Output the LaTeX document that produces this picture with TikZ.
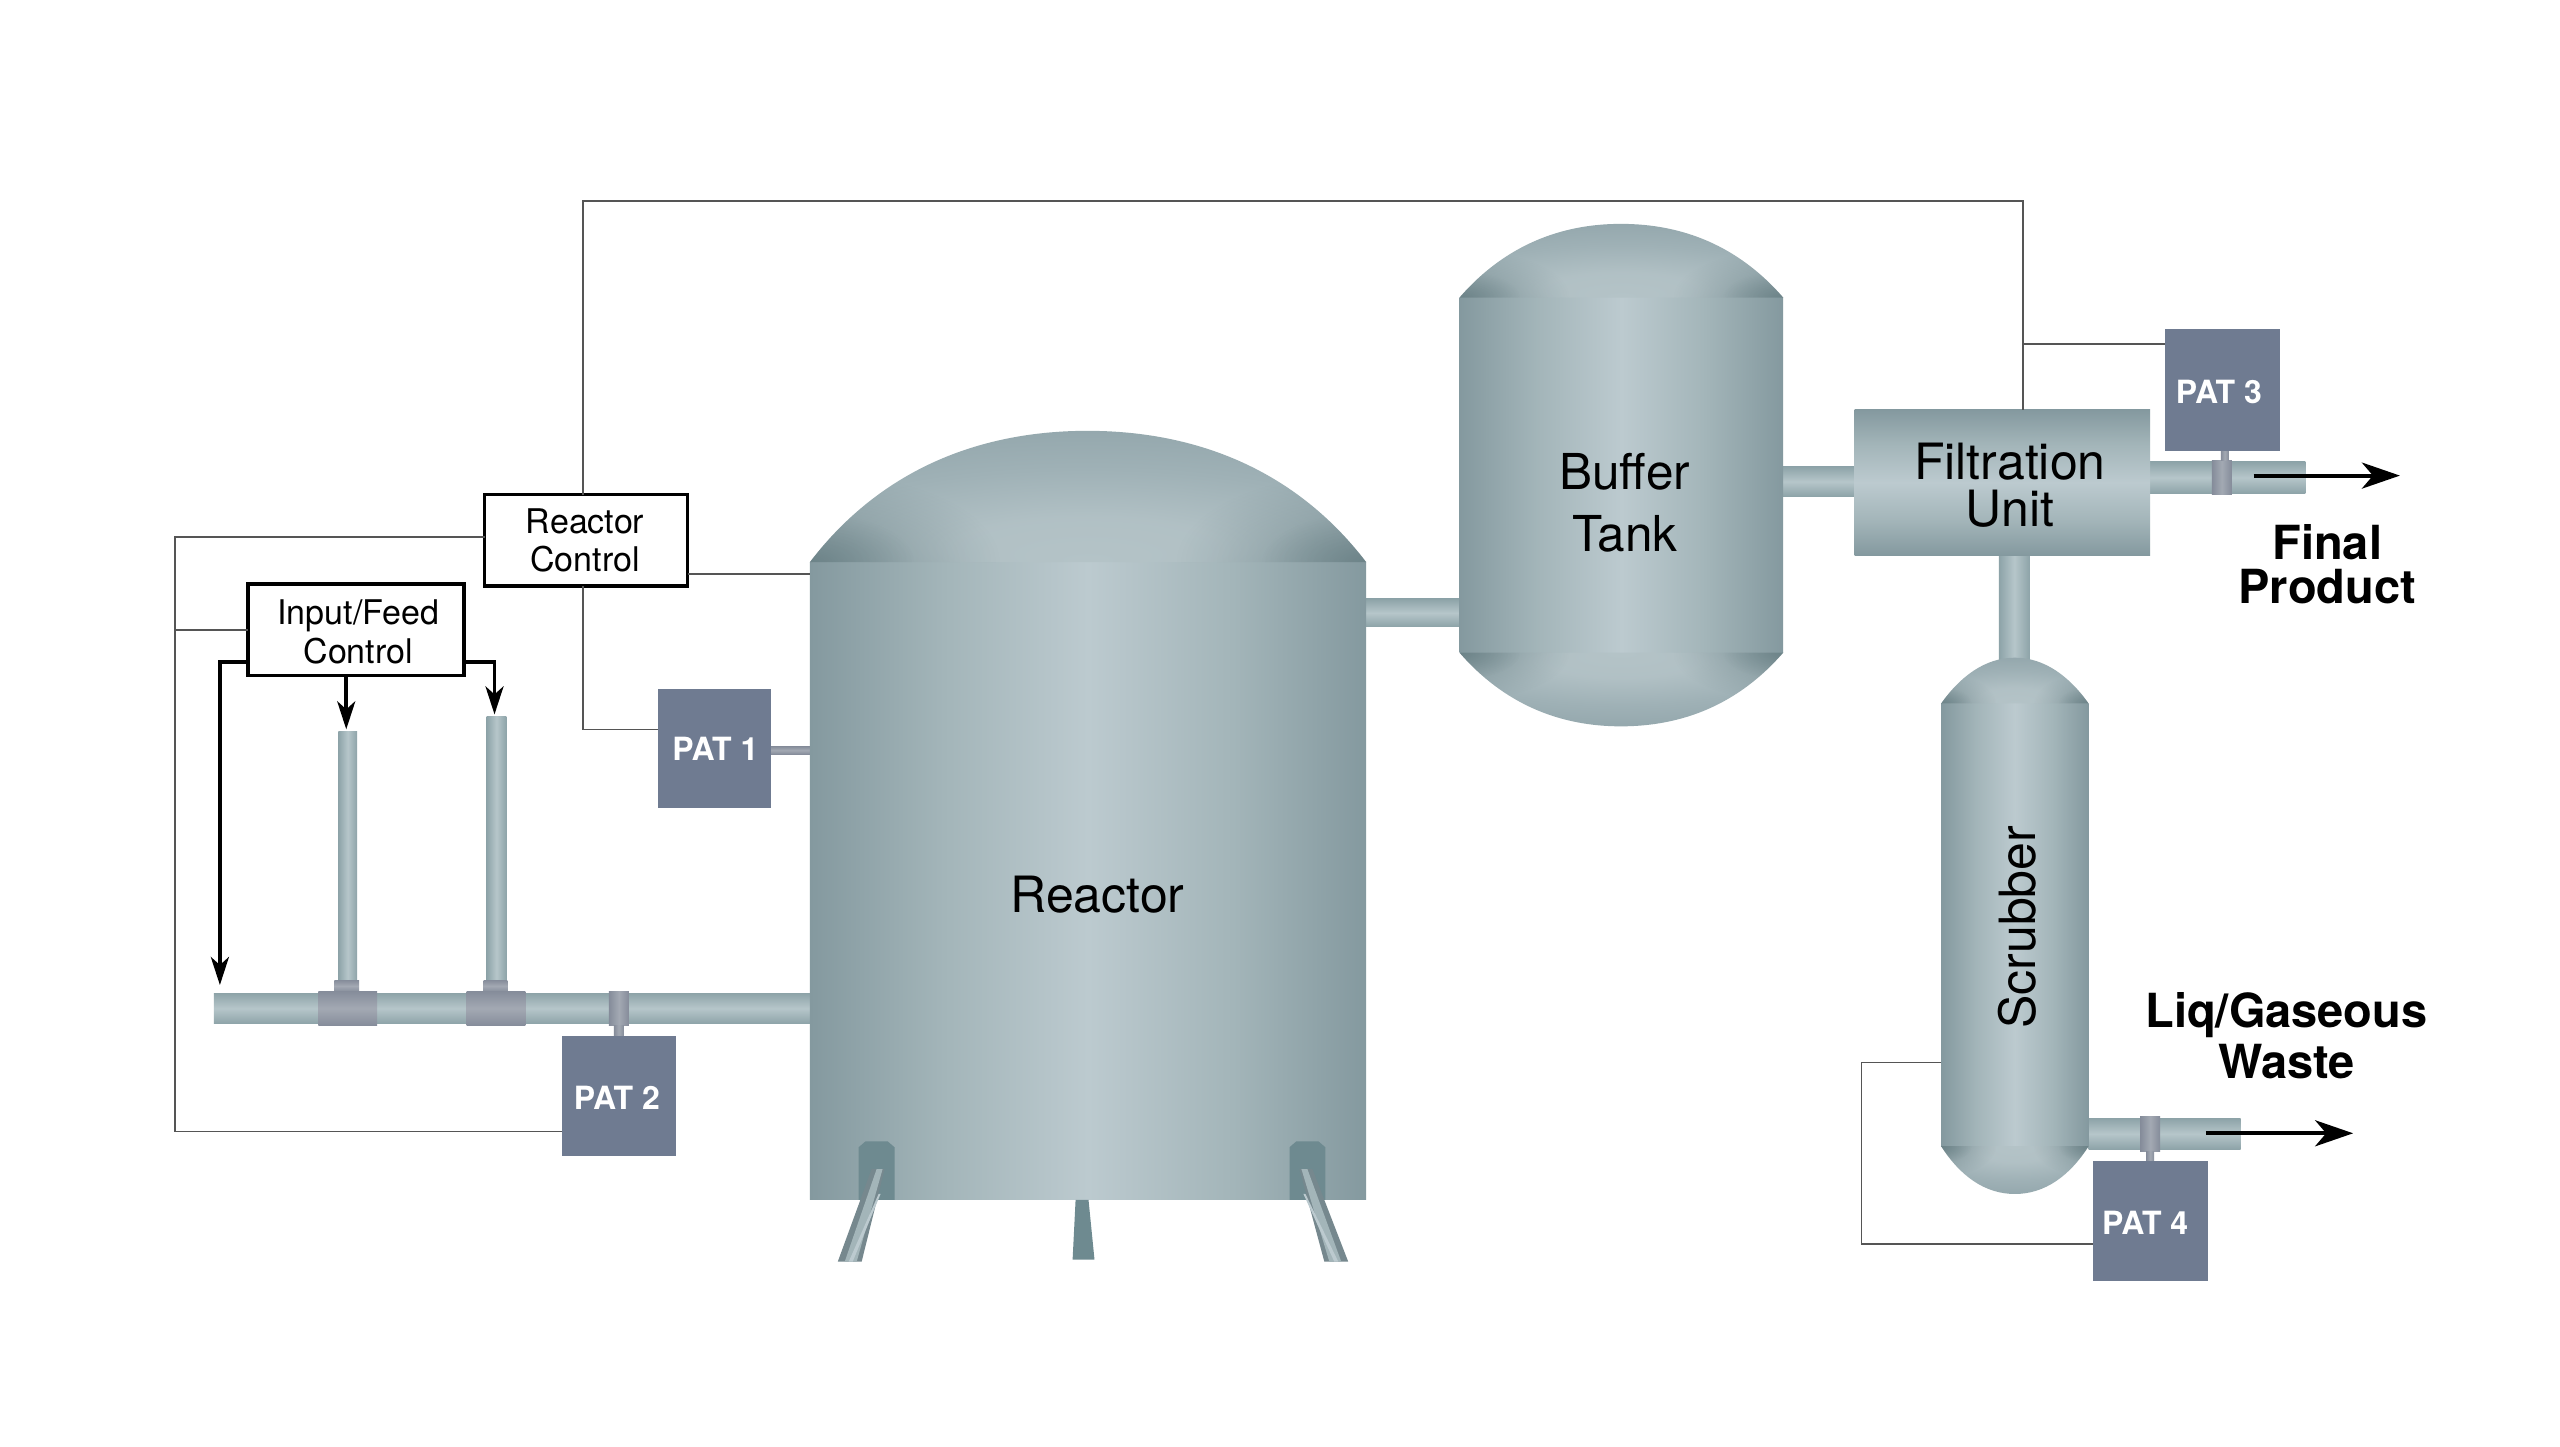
\documentclass[tikz,border=0pt]{standalone}
\usepackage{fontspec}
\setmainfont{TeX Gyre Heros}
\usetikzlibrary{fit,arrows.meta,fadings}
\definecolor{vDark}{HTML}{84999F}
\definecolor{vMid}{HTML}{A3B5B9}
\definecolor{vLight}{HTML}{BCCACF}
\definecolor{dDark}{HTML}{869BA1}
\definecolor{dMid}{HTML}{9FB1B6}
\definecolor{dLight}{HTML}{B4C3C7}
\definecolor{pDark}{HTML}{8DA3A8}
\definecolor{pLight}{HTML}{B6C6CA}
\definecolor{cDark}{HTML}{858C9A}
\definecolor{cLight}{HTML}{A3A9B3}
\definecolor{padcol}{HTML}{6E8A90}
\definecolor{patcol}{HTML}{6F7B91}
\definecolor{wirecol}{HTML}{555555}
\pgfdeclarehorizontalshading{bodyH}{100bp}{color(0bp)=(vDark);color(25bp)=(vDark);color(37bp)=(vMid);color(50bp)=(vLight);color(63bp)=(vMid);color(75bp)=(vDark);color(100bp)=(vDark)}
\pgfdeclareradialshading{domeTop}{\pgfpoint{0bp}{-25bp}}{color(0bp)=(dLight);color(12bp)=(dLight!85!dMid);color(25bp)=(dMid);color(50bp)=(dDark);color(60bp)=(dDark)}
\pgfdeclareradialshading{domeBot}{\pgfpoint{0bp}{25bp}}{color(0bp)=(dLight);color(12bp)=(dLight!85!dMid);color(25bp)=(dMid);color(50bp)=(dDark);color(60bp)=(dDark)}
\pgfdeclareverticalshading{bodyV}{100bp}{color(0bp)=(vDark);color(25bp)=(vDark);color(37bp)=(vMid);color(50bp)=(vLight);color(63bp)=(vMid);color(75bp)=(vDark);color(100bp)=(vDark)}
\pgfdeclareverticalshading{pipeV}{100bp}{color(0bp)=(pDark);color(25bp)=(pDark);color(50bp)=(pLight);color(75bp)=(pDark);color(100bp)=(pDark)}
\pgfdeclarehorizontalshading{pipeH}{100bp}{color(0bp)=(pDark);color(25bp)=(pDark);color(50bp)=(pLight);color(75bp)=(pDark);color(100bp)=(pDark)}
\pgfdeclareverticalshading{collarV}{100bp}{color(0bp)=(cDark);color(25bp)=(cDark);color(50bp)=(cLight);color(75bp)=(cDark);color(100bp)=(cDark)}
\pgfdeclarehorizontalshading{collarH}{100bp}{color(0bp)=(cDark);color(25bp)=(cDark);color(50bp)=(cLight);color(75bp)=(cDark);color(100bp)=(cDark)}
\tikzfading[name=cornerfade,inner color=transparent!50,outer color=transparent!100]
\tikzset{
  part/.style={rectangle,inner sep=0pt,outer sep=0pt,draw=none},
  vbody/.style={part,shade,shading=bodyH},
  hbody/.style={part,shade,shading=bodyV},
  hpipe/.style={part,shade,shading=pipeV},
  vpipe/.style={part,shade,shading=pipeH},
  hcollar/.style={part,shade,shading=collarV},
  vcollar/.style={part,shade,shading=collarH},
  pat/.style={part,fill=patcol},
  pattext/.style={text=white,font=\bfseries\fontsize{32}{38}\selectfont},
  ctrlbox/.style={part,draw=black,line width=3.8pt,fill=white},
  wire/.style={draw=wirecol,line width=1.6pt,line join=miter},
  ctl/.style={draw=black,line width=3.8pt,-{Stealth[length=28pt,width=18pt,inset=8pt]}},
  outarrow/.style={draw=black,line width=4pt,-{Stealth[length=38pt,width=26pt,inset=11pt]}},
  vesseltext/.style={align=center,inner sep=0pt},
  exitlabel/.style={align=center,inner sep=0pt},
  pad/.style={fill=padcol},
  cornershade/.style={fill=padcol!85!black,path fading=cornerfade},
}
\newcommand{\domecorner}[4]{%
  \fill[cornershade] (#1,#2) ellipse [x radius=#3,y radius=#4];
  \fill[cornershade] (#1,#2) ellipse [x radius=0.55*#3,y radius=0.55*#4];
}
\begin{document}
\begin{tikzpicture}[x=0.995pt,y=-0.995pt]
\useasboundingbox (0,0) rectangle (2572.9,1453.3);
\fill[white] (0,0) rectangle (2572.9,1453.3);

% pipes behind vessels
\node[hpipe,fit={(215,998)(814,1029)}] (mainpipe) {};
\node[vpipe,fit={(340,735)(359,998)}] (feed1) {};
\node[vpipe,fit={(489,720)(509,998)}] (feed2) {};
\node[hcollar,fit={(336,985)(361,997)}] (neck1) {};
\node[hcollar,fit={(486,985)(510,997)}] (neck2) {};
\node[hcollar,fit={(320,996)(379,1031)}] (tee1) {};
\node[hcollar,fit={(469,996)(528,1031)}] (tee2) {};
\node[vcollar,fit={(612,996)(632,1031)}] (collar2) {};
\node[vcollar,fit={(617,1031)(627,1041)}] (stem2) {};
\node[hcollar,fit={(775,750)(814,758)}] (stem1) {};
\node[hpipe,fit={(1373,602)(1467,630)}] (rbpipe) {};
\node[hpipe,fit={(1792,469)(1864,499)}] (bfpipe) {};
\node[vpipe,fit={(2009,558)(2040,668)}] (fspipe) {};
\node[hpipe,fit={(2161,464)(2317,496)}] (outpipe) {};
\node[vcollar,fit={(2223,463)(2243,497)}] (collar3) {};
\node[vcollar,fit={(2232,453)(2240,463)}] (stem3) {};
\node[hpipe,fit={(2099,1124)(2252,1155)}] (wastepipe) {};
\node[vcollar,fit={(2151,1122)(2171,1157)}] (collar4) {};
\node[vcollar,fit={(2157,1157)(2165,1167)}] (stem4) {};

% reactor
\node[vbody,fit={(814,565)(1373,1206)}] (reactor) {};
\shade[shading=domeTop] (814,565) .. controls (888,468) and (990,433) .. (1093,433) .. controls (1196,433) and (1299,468) .. (1373,565) -- cycle;
\begin{scope}
  \clip (814,565) .. controls (888,468) and (990,433) .. (1093,433) .. controls (1196,433) and (1299,468) .. (1373,565) -- cycle;
  \domecorner{814}{565}{190pt}{90pt}
  \domecorner{1373}{565}{190pt}{90pt}
\end{scope}
\foreach \a/\b in {863/899,1296/1332}{
  \fill[pad] (\a,1206) -- (\a,1153) -- (\a+7,1147) -- (\b-7,1147) -- (\b,1153) -- (\b,1206) -- cycle;
}
% legs
\fill[dDark!88!black] (876,1175) -- (889,1175) -- (866,1268) -- (842,1268) -- cycle;
\fill[vMid] (881,1175) -- (887,1175) -- (861,1268) -- (849,1268) -- cycle;
\fill[vLight] (883,1200) -- (885,1200) -- (857,1268) -- (853,1268) -- cycle;
\fill[dDark!88!black] (1306,1175) -- (1319,1175) -- (1355,1268) -- (1331,1268) -- cycle;
\fill[vMid] (1308,1175) -- (1314,1175) -- (1348,1268) -- (1336,1268) -- cycle;
\fill[vLight] (1310,1200) -- (1312,1200) -- (1345,1268) -- (1341,1268) -- cycle;
\fill[padcol] (1081,1206) -- (1094,1206) -- (1100,1266) -- (1078,1266) -- cycle;

% buffer tank
\node[vbody,fit={(1467,299)(1792,656)}] (buffer) {};
\shade[shading=domeTop] (1467,299) .. controls (1512,247) and (1568,225) .. (1629,225) .. controls (1691,225) and (1747,247) .. (1792,299) -- cycle;
\begin{scope}
  \clip (1467,299) .. controls (1512,247) and (1568,225) .. (1629,225) .. controls (1691,225) and (1747,247) .. (1792,299) -- cycle;
  \domecorner{1467}{299}{110pt}{48pt}
  \domecorner{1792}{299}{110pt}{48pt}
\end{scope}
\shade[shading=domeBot] (1467,656) .. controls (1512,708) and (1568,730) .. (1629,730) .. controls (1691,730) and (1747,708) .. (1792,656) -- cycle;
\begin{scope}
  \clip (1467,656) .. controls (1512,708) and (1568,730) .. (1629,730) .. controls (1691,730) and (1747,708) .. (1792,656) -- cycle;
  \domecorner{1467}{656}{110pt}{48pt}
  \domecorner{1792}{656}{110pt}{48pt}
\end{scope}

% filtration unit
\node[hbody,fit={(1864,412)(2161,558)}] (filter) {};

% scrubber
\node[vbody,fit={(1951,707)(2099,1152)}] (scrubber) {};
\shade[shading=domeTop] (1951,707) .. controls (1970,680) and (1995,661) .. (2025,661) .. controls (2055,661) and (2080,680) .. (2099,707) -- cycle;
\begin{scope}
  \clip (1951,707) .. controls (1970,680) and (1995,661) .. (2025,661) .. controls (2055,661) and (2080,680) .. (2099,707) -- cycle;
  \domecorner{1951}{707}{55pt}{30pt}
  \domecorner{2099}{707}{55pt}{30pt}
\end{scope}
\shade[shading=domeBot] (1951,1152) .. controls (1970,1182) and (1995,1200) .. (2025,1200) .. controls (2055,1200) and (2080,1182) .. (2099,1152) -- cycle;
\begin{scope}
  \clip (1951,1152) .. controls (1970,1182) and (1995,1200) .. (2025,1200) .. controls (2055,1200) and (2080,1182) .. (2099,1152) -- cycle;
  \domecorner{1951}{1152}{55pt}{30pt}
  \domecorner{2099}{1152}{55pt}{30pt}
\end{scope}

% PAT boxes
\node[pat,fit={(661,692)(775,812)}] (pat1) {};
\node[pat,fit={(565,1041)(679,1162)}] (pat2) {};
\node[pat,fit={(2176,331)(2291,453)}] (pat3) {};
\node[pat,fit={(2104,1167)(2219,1287)}] (pat4) {};
\node[pattext] (pat1t) at (719,753) {PAT 1};
\node[pattext] (pat2t) at (620,1103) {PAT 2};
\node[pattext] (pat3t) at (2230,394) {PAT 3};
\node[pattext] (pat4t) at (2156,1229) {PAT 4};

% control boxes
\node[ctrlbox,fit={(487,497)(691,589)}] (rc) {};
\node[ctrlbox,fit={(249,587)(466,679)}] (ifc) {};
\node[align=center,inner sep=0pt,font=\fontsize{34}{38}\selectfont] (rct) at (588,543) {Reactor\\Control};
\node[align=center,inner sep=0pt,font=\fontsize{34}{39}\selectfont] (ifct) at (360,635) {Input/Feed\\Control};

% thin signal wires
\coordinate (wa) at (586,202);
\coordinate (wb) at (2033,202);
\coordinate (wc) at (586,733);
\coordinate (wd) at (176,540);
\coordinate (we) at (176,1137);
\coordinate (wf) at (176,633);
\coordinate (wg) at (691,577);
\coordinate (wh) at (2033,346);
\coordinate (wi) at (1871,1068);
\coordinate (wj) at (1871,1250);
\draw[wire] (wa |- rc.north) -- (wa) -- (wb) -- (wb |- filter.north);
\draw[wire] (wa |- rc.south) -- (wc) -- (wc -| pat1.west);
\draw[wire] (wd -| rc.west) -- (wd) -- (we) -- (we -| pat2.west);
\draw[wire] (wf) -- (wf -| ifc.west);
\draw[wire] (wg -| rc.east) -- (wg -| reactor.west);
\draw[wire] (wh) -- (wh -| pat3.west);
\draw[wire] (wi -| scrubber.west) -- (wi) -- (wj) -- (wj -| pat4.west);

% control arrows
\coordinate (ca) at (221,665);
\coordinate (cae) at (221,990);
\coordinate (cb) at (348,733);
\coordinate (cc) at (497,665);
\coordinate (cce) at (497,718);
\draw[ctl] (ca -| ifc.west) -- (ca) -- (cae);
\draw[ctl] (cb |- ifc.south) -- (cb);
\draw[ctl] (cc -| ifc.east) -- (cc) -- (cce);

% outlet arrows
\coordinate (oa) at (2265,478);
\coordinate (oae) at (2412,478);
\coordinate (ob) at (2217,1139);
\coordinate (obe) at (2365,1139);
\draw[outarrow] (oa) -- (oae);
\draw[outarrow] (ob) -- (obe);

% vessel labels
\node[vesseltext,font=\fontsize{50}{60}\selectfont] (reactort) at (1103,899) {Reactor};
\node[vesseltext,font=\fontsize{49.5}{62}\selectfont] (buffert) at (1633,505) {Buffer\\Tank};
\node[vesseltext,font=\fontsize{50}{47}\selectfont] (filtert) at (2020,488) {Filtration\\Unit\hspace{8pt}};
\node[vesseltext,font=\fontsize{50}{60}\selectfont,rotate=90] (scrubbert) at (2027,932) {Scrubber};
\node[exitlabel,font=\bfseries\fontsize{47}{44}\selectfont] (finalt) at (2339,567) {Final\\Product};
\node[exitlabel,font=\bfseries\fontsize{47}{51}\selectfont] (wastet) at (2298,1041) {Liq/Gaseous\\Waste};
\end{tikzpicture}
\end{document}
